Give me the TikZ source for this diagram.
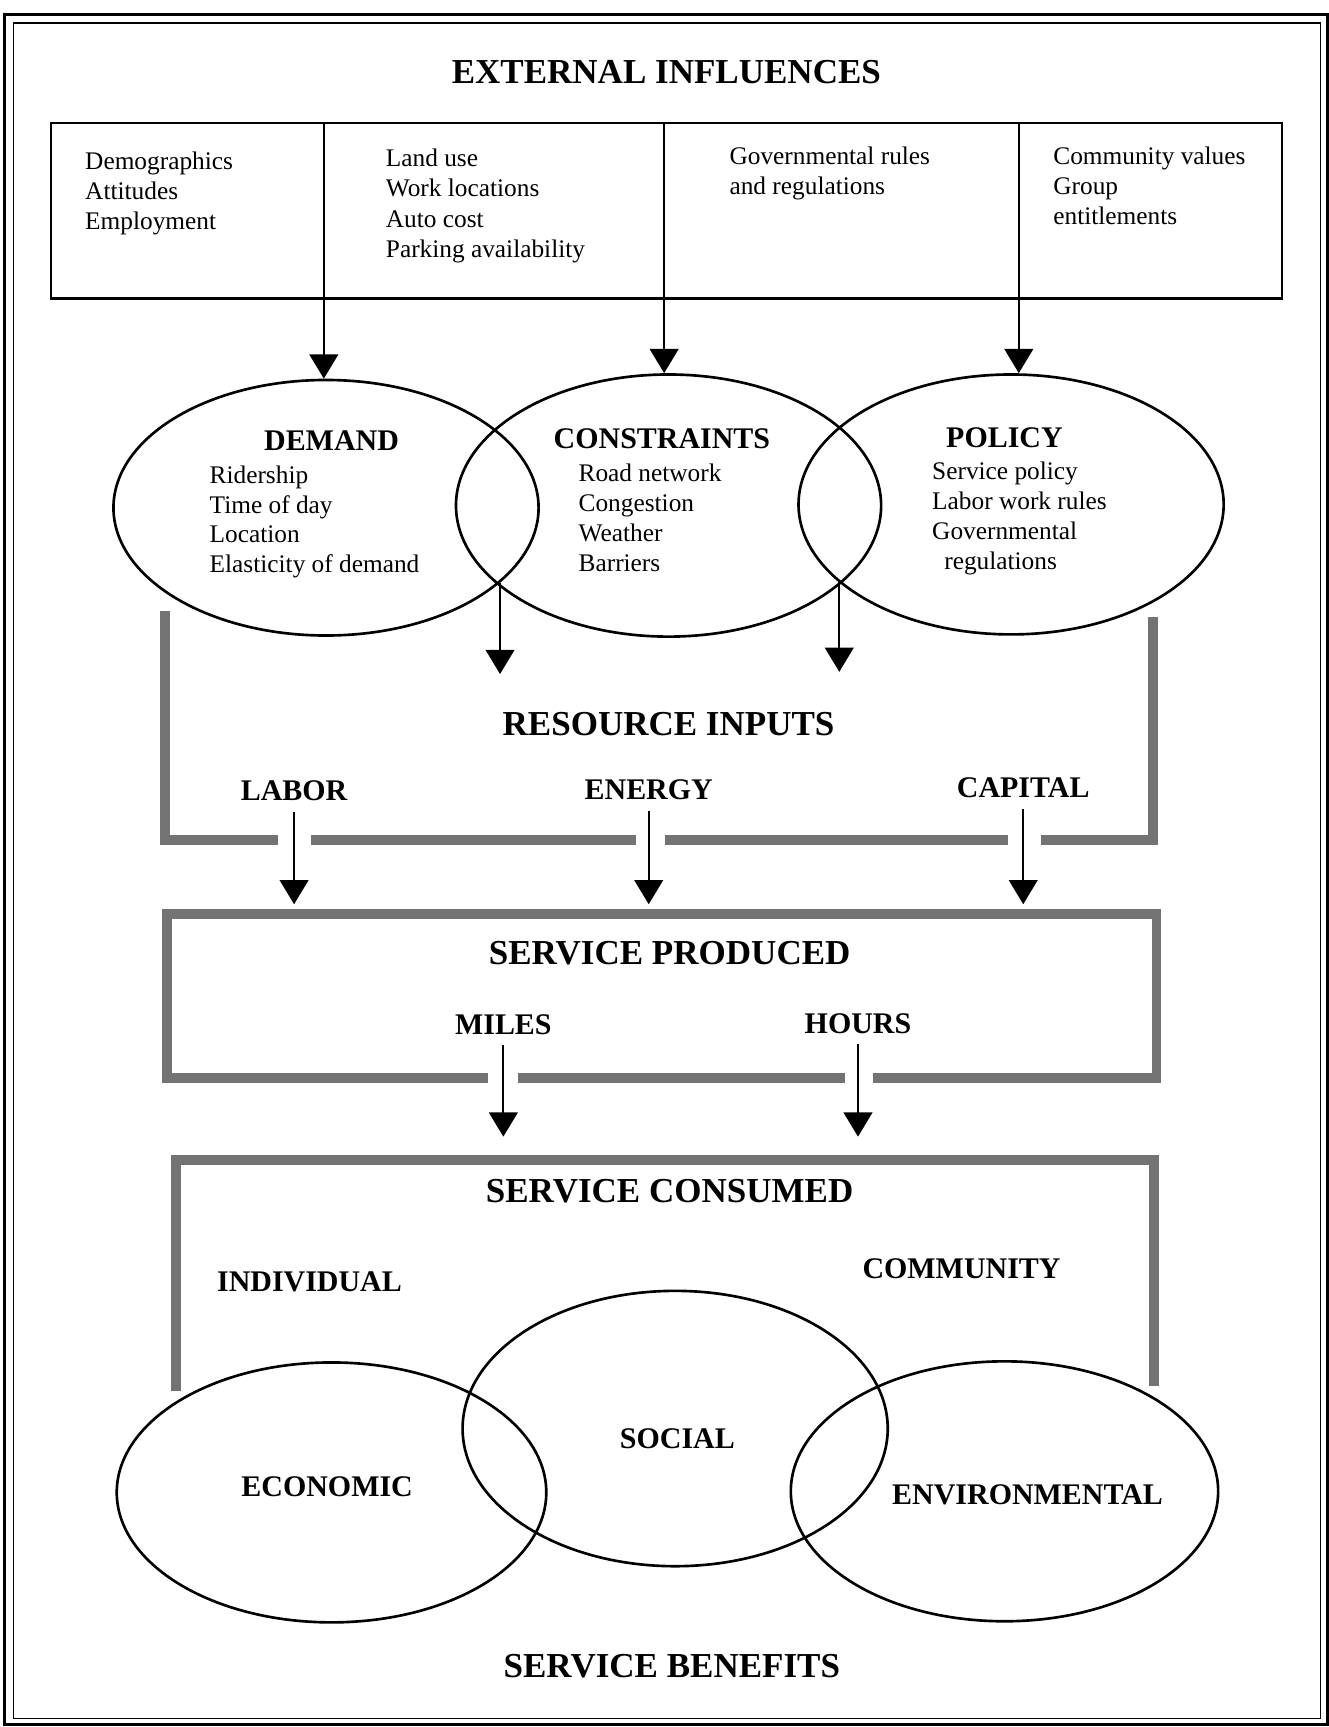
\documentclass[tikz,border=0pt]{standalone}
\usepackage{fontspec}
\setmainfont{Liberation Serif}
\usetikzlibrary{arrows.meta}
\usetikzlibrary{shapes.geometric}

\newcommand{\bigfont}{\fontsize{15.9}{19}\selectfont\bfseries}
\newcommand{\midfont}{\fontsize{13.6}{16}\selectfont\bfseries}
\newcommand{\txtfont}{\fontsize{11.5}{13.75}\selectfont}

\tikzset{
	arr/.style={line width=1pt, -{Triangle[width=13pt,length=11pt]}},
	band/.style={line width=4.5pt, draw=black!55},
	oval/.style={draw, ellipse, line width=1.2pt, inner sep=0pt},
	head/.style={anchor=base, inner sep=0pt, font=\bigfont},
	tag/.style={anchor=base, inner sep=0pt, font=\midfont},
	item/.style={anchor=base west, inner sep=0pt, font=\txtfont},
}

\begin{document}
\begin{tikzpicture}[x=0.5pt, y=-0.5pt]
			\useasboundingbox (0,0) rectangle (1206,1568);
			\draw[line width=1.5pt] (4,13) rectangle (1205,1566);
			\draw[line width=0.6pt] (12,21) rectangle (1199,1560);
			% external influences
			\node (ext) at (605,76) [head] {EXTERNAL INFLUENCES};
			\node (extbox) at (605,191.5) [draw, line width=1pt, minimum width=559pt, minimum height=79.5pt, inner sep=0pt] {};
			\foreach \t [count=\i from 0] in {Demographics, Attitudes, Employment}
				\node (demog\i) at (77,154+27.3*\i) [item] {\t};
			\foreach \t [count=\i from 0] in {Land use, Work locations, Auto cost, Parking availability}
				\node (land\i) at (350,151+27.7*\i) [item] {\t};
			\foreach \t [count=\i from 0] in {Governmental rules, and regulations}
				\node (gov\i) at (662,149+27.5*\i) [item] {\t};
			\foreach \t [count=\i from 0] in {Community values, Group, entitlements}
				\node (comm\i) at (956,149+27.5*\i) [item] {\t};
			% the three ovals
			\node (demand) at (296,461) [oval, minimum width=193pt, minimum height=116pt] {};
			\node (constraints) at (607,459) [oval, minimum width=193pt, minimum height=119pt] {};
			\node (policy) at (918,458) [oval, minimum width=193pt, minimum height=118pt] {};
			\node (demand-t) at (301,409) [tag] {DEMAND};
			\foreach \t [count=\i from 0] in {Ridership, Time of day, Location, Elasticity of demand}
				\node (demand\i) at (190,439+27*\i) [item] {\t};
			\node (constraints-t) at (601,407) [tag] {CONSTRAINTS};
			\foreach \t [count=\i from 0] in {Road network, Congestion, Weather, Barriers}
				\node (constraints\i) at (525,437+27.3*\i) [item] {\t};
			\node (policy-t) at (912,406) [tag] {POLICY};
			\foreach \t [count=\i from 0] in {Service policy, Labor work rules, Governmental}
				\node (policy\i) at (846,435+27.3*\i) [item] {\t};
			\node (policy3) at (857,517) [item] {regulations};
			\foreach \x/\e in {294/demand, 603/constraints, 925/policy} {
				\coordinate (div-\e) at (\x,0);
				\draw[arr] (extbox.north -| div-\e) -- (\e.north -| div-\e);
			}
			\coordinate (dc) at (454,529);
			\coordinate (dc-tip) at (454,612);
			\coordinate (cp) at (762,528);
			\coordinate (cp-tip) at (762,610);
			\draw[arr] (dc) -- (dc-tip);
			\draw[arr] (cp) -- (cp-tip);
			% resource inputs
			\node (resin) at (607,668) [head] {RESOURCE INPUTS};
			\node (labor) at (267,727) [tag] {LABOR};
			\node (energy) at (589,726) [tag] {ENERGY};
			\node (capital) at (929,724) [tag] {CAPITAL};
			\draw[band] (150,555) -- (150,763) -- (252,763) (282,763) -- (577,763)
				(604,763) -- (915,763) (945,763) -- (1047,763) -- (1047,560);
			\coordinate (prodtop) at (0,821);
			\foreach \n in {labor, energy, capital}
				\draw[arr] ([yshift=-5pt]\n.south) -- (\n.south |- prodtop);
			% service produced
			\node (prod) at (608,876) [head] {SERVICE PRODUCED};
			\node (miles) at (457,939) [tag] {MILES};
			\node (hours) at (779,938) [tag] {HOURS};
			\draw[band] (443,979) -- (152,979) -- (152,830) -- (1050,830) -- (1050,979) -- (793,979)
				(767,979) -- (470,979);
			\coordinate (constop) at (0,1032);
			\foreach \n in {miles, hours}
				\draw[arr] ([yshift=-4.5pt]\n.south) -- (\n.south |- constop);
			% service consumed
			\node (cons) at (608,1092) [head] {SERVICE CONSUMED};
			\node (indiv) at (281,1173) [tag] {INDIVIDUAL};
			\node (commun) at (873,1161) [tag] {COMMUNITY};
			\draw[band] (160,1263) -- (160,1053) -- (1048,1053) -- (1048,1258);
			% service benefits
			\node (economic) at (301,1355) [oval, minimum width=195pt, minimum height=118pt] {};
			\node (social) at (613,1297) [oval, minimum width=193pt, minimum height=125pt] {};
			\node (environmental) at (912,1354) [oval, minimum width=194pt, minimum height=118pt] {};
			\node (economic-t) at (297,1359) [tag] {ECONOMIC};
			\node (social-t) at (615,1315) [tag] {SOCIAL};
			\node (environmental-t) at (933,1366) [tag] {ENVIRONMENTAL};
			\node (benefits) at (610,1523) [head] {SERVICE BENEFITS};
\end{tikzpicture}
\end{document}
